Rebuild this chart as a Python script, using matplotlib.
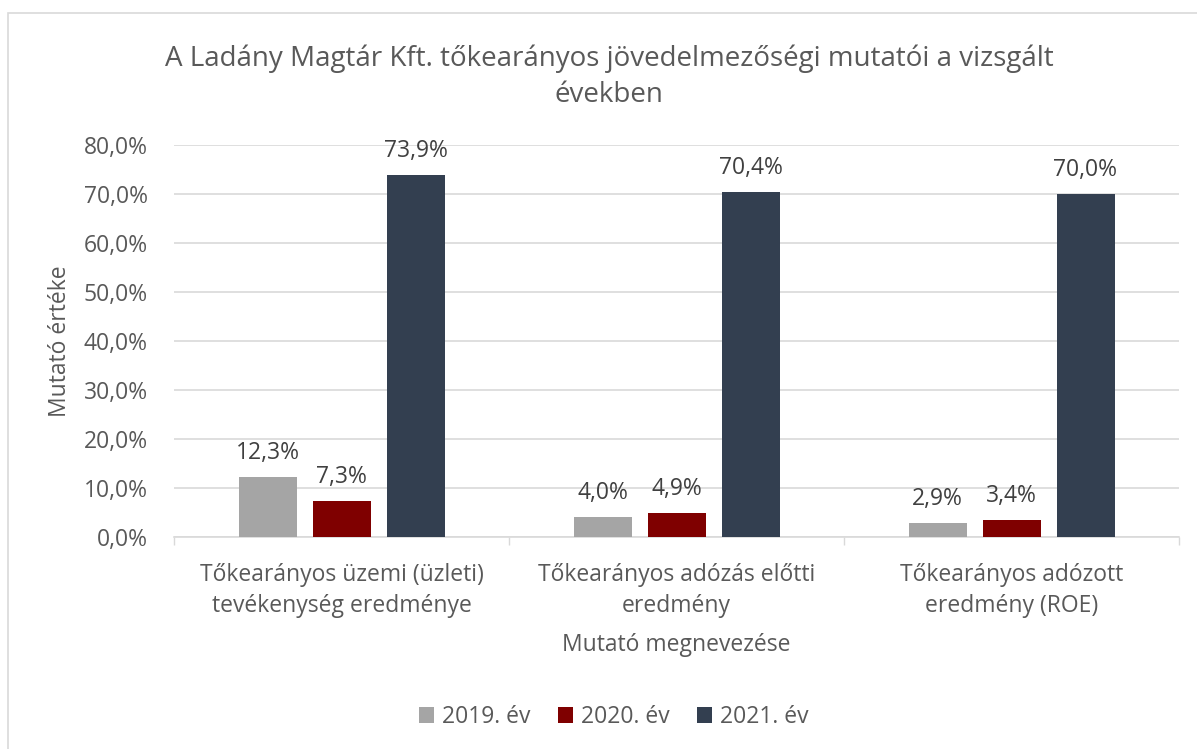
import matplotlib
matplotlib.use("Agg")
import matplotlib.pyplot as plt
from matplotlib.patches import Rectangle
import numpy as np

categories = [
    "Tőkearányos üzemi (üzleti)\ntevékenység eredménye",
    "Tőkearányos adózás előtti\neredmény",
    "Tőkearányos adózott\neredmény (ROE)",
]
years = ["2019. év", "2020. év", "2021. év"]
values_2019 = [0.123, 0.040, 0.029]
values_2020 = [0.073, 0.049, 0.034]
values_2021 = [0.739, 0.704, 0.700]
colors = ["#A5A5A5", "#7F0000", "#333F50"]

W, H = 1197, 749
plt.rcParams["font.family"] = ["Open Sans", "DejaVu Sans"]
text_color = "#595959"
fs = 16.5

fig = plt.figure(figsize=(W / 100, H / 100), dpi=100)
ax = fig.add_axes([174 / W, 1 - 537 / H, (1179 - 174) / W, (537 - 145) / H])

x = np.arange(len(categories))
step = 74 / 335
width = 58 / 335
series = [values_2019, values_2020, values_2021]
for i, (vals, label, c) in enumerate(zip(series, years, colors)):
    bars = ax.bar(x + (i - 1) * step, vals, width, color=c, label=label, zorder=3)
    for b, v in zip(bars, vals):
        ax.annotate(f"{v * 100:.1f}%".replace(".", ","),
                    (b.get_x() + b.get_width() / 2, v),
                    xytext=(0, 13), textcoords="offset points",
                    ha="center", va="baseline", fontsize=fs, color="#404040")

ax.set_xlim(-0.5, 2.5)
ax.set_ylim(0, 0.8)
yt = np.arange(0, 0.81, 0.1)
ax.set_yticks(yt)
ax.set_yticklabels([f"{t * 100:.1f}%".replace(".", ",") for t in yt])
ax.set_xticks(x)
ax.set_xticklabels(categories, linespacing=1.35)
ax.set_xticks(np.arange(-0.5, 2.6, 1), minor=True)
ax.tick_params(axis="x", which="major", length=0, pad=19, labelsize=fs, labelcolor=text_color)
ax.tick_params(axis="x", which="minor", length=6, color="#D9D9D9", width=1)
ax.tick_params(axis="y", length=0, pad=19, labelsize=fs, labelcolor=text_color)
ax.grid(axis="y", color="#D9D9D9", lw=1.2, zorder=0)
for s in ["top", "right", "left"]:
    ax.spines[s].set_visible(False)
ax.spines["bottom"].set_color("#D9D9D9")
ax.spines["bottom"].set_linewidth(1.2)

fig.text(609 / W, 1 - 77 / H,
         "A Ladány Magtár Kft. tőkearányos jövedelmezőségi mutatói a vizsgált\névekben",
         ha="center", va="center", fontsize=20, color=text_color, linespacing=1.38)
fig.text(60 / W, 1 - 341 / H, "Mutató értéke", rotation=90, ha="center", va="center",
         fontsize=fs, color=text_color)
fig.text(676 / W, 1 - 645 / H, "Mutató megnevezése", ha="center", va="center",
         fontsize=fs, color=text_color)

handles, labels = ax.get_legend_handles_labels()
fig.legend(handles, labels, loc="center", bbox_to_anchor=(614 / W, 1 - 717 / H),
           ncol=3, frameon=False, fontsize=fs, labelcolor=text_color,
           handlelength=0.66, handleheight=0.66, handletextpad=0.35, columnspacing=1.2)

fig.patches.append(Rectangle((8 / W, -0.1), 2, 1.1 - 13 / H, transform=fig.transFigure,
                             fill=False, edgecolor="#D9D9D9", lw=1.2))

fig.savefig("out.png", dpi=100)
